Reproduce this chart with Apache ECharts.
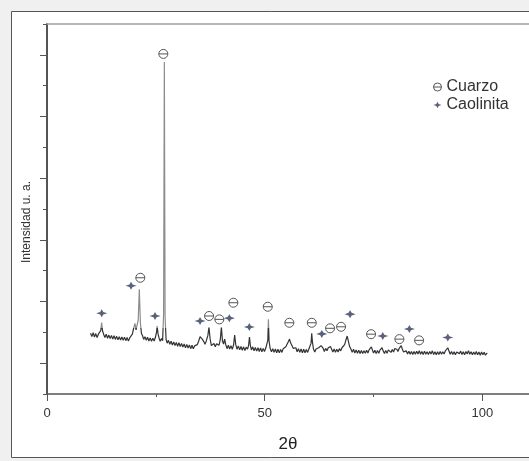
<!DOCTYPE html>
<html>
<head>
<meta charset="utf-8">
<script src="https://cdn.jsdelivr.net/npm/echarts@6/dist/echarts.min.js"></script>
<style>
html,body{margin:0;padding:0;background:#f0f0f0;}
#c{width:529px;height:461px;}
</style>
</head>
<body>
<div id="c"></div>
<script>
// XRD pattern: 2θ (degrees) and intensity (arbitrary units)
var twoTheta = [
10.0,10.3,10.6,10.9,11.2,11.5,11.8,12.1,12.35,12.55,
12.75,13.0,13.3,13.6,13.9,14.2,14.5,14.8,15.1,15.4,
15.7,16.0,16.3,16.6,16.9,17.2,17.5,17.8,18.1,18.4,
18.7,19.0,19.3,19.6,19.85,20.2,20.45,20.7,20.95,21.2,
21.45,21.7,21.95,22.2,22.5,22.8,23.1,23.4,23.7,24.0,
24.3,24.6,24.9,25.15,25.3,25.5,25.75,26.0,26.3,26.55,
26.78,26.95,27.12,27.35,27.6,27.9,28.2,28.5,28.8,29.1,
29.4,29.7,30.0,30.3,30.6,30.9,31.2,31.5,31.8,32.1,
32.4,32.7,33.0,33.3,33.6,33.9,34.2,34.5,34.85,35.15,
35.4,35.7,36.0,36.3,36.6,36.95,37.2,37.45,37.75,38.05,
38.35,38.65,38.95,39.2,39.5,39.8,40.05,40.3,40.55,40.8,
41.05,41.35,41.65,41.95,42.25,42.55,42.85,43.1,43.35,43.65,
43.95,44.25,44.55,44.85,45.15,45.45,45.75,46.05,46.3,46.5,
46.7,46.95,47.25,47.55,47.85,48.15,48.45,48.75,49.05,49.35,
49.65,49.95,50.25,50.55,50.72,50.85,51.0,51.25,51.55,51.85,
52.15,52.45,52.75,53.05,53.35,53.65,53.95,54.25,54.55,54.85,
55.15,55.45,55.7,55.95,56.25,56.55,56.85,57.15,57.45,57.75,
58.05,58.35,58.65,58.95,59.25,59.55,59.85,60.15,60.45,60.65,
60.8,60.95,61.2,61.5,61.8,62.1,62.4,62.7,62.95,63.15,
63.4,63.7,64.0,64.3,64.6,64.9,65.1,65.35,65.65,65.95,
66.25,66.55,66.85,67.15,67.45,67.75,68.05,68.35,68.65,68.95,
69.2,69.5,69.8,70.1,70.4,70.7,71.0,71.3,71.6,71.9,
72.2,72.5,72.8,73.1,73.4,73.7,74.0,74.3,74.5,74.75,
75.0,75.3,75.6,75.9,76.2,76.5,76.75,76.95,77.2,77.5,
77.8,78.1,78.4,78.7,79.0,79.3,79.6,79.85,80.1,80.35,
80.6,80.85,81.1,81.35,81.6,81.9,82.2,82.5,82.8,83.1,
83.4,83.7,84.0,84.3,84.6,84.9,85.2,85.5,85.8,86.1,
86.4,86.7,87.0,87.3,87.6,87.9,88.2,88.5,88.8,89.1,
89.4,89.7,90.0,90.3,90.6,90.9,91.2,91.5,91.8,92.05,
92.3,92.6,92.9,93.2,93.5,93.8,94.1,94.4,94.7,95.0,
95.3,95.6,95.9,96.2,96.5,96.8,97.1,97.4,97.7,98.0,
98.3,98.6,98.9,99.2,99.5,99.8,100.1,100.4,100.7,101.1];
var intensity = [
197,186,199,185,196,183,194,188,206,232,
205,194,183,194,181,191,180,190,178,189,
177,187,176,186,175,185,174,184,173,183,
172,182,184,194,210,229,208,204,240,340,
230,196,189,177,186,174,184,172,182,171,
181,172,184,200,220,195,181,171,180,173,
260,1077,250,177,165,174,161,171,159,169,
157,167,155,166,154,164,152,162,150,161,
149,159,147,158,147,156,150,160,172,186,
190,177,170,161,173,190,217,180,157,152,
164,153,163,166,158,176,217,172,162,178,
160,147,158,146,157,145,159,191,160,145,
156,143,154,142,153,141,152,145,158,185,
158,143,153,140,151,139,150,138,149,137,
148,138,149,150,175,242,172,148,137,147,
135,146,134,145,134,144,135,147,142,153,
158,170,178,166,157,148,145,150,137,147,
135,146,134,145,134,144,135,146,147,165,
197,170,146,136,146,140,150,148,157,159,
149,138,148,140,150,148,154,146,136,146,
135,145,136,147,140,150,150,160,175,188,
172,154,146,135,145,133,143,132,142,131,
141,131,140,132,142,133,144,146,153,142,
133,142,131,141,132,143,146,150,140,131,
141,132,143,144,135,144,136,147,153,145,
138,147,149,157,146,136,131,140,130,139,
129,138,128,138,129,139,130,140,129,138,
128,139,129,137,128,138,130,140,128,137,
127,137,128,138,129,137,130,140,144,150,
140,129,138,128,137,127,136,140,131,139,
128,137,127,138,130,140,129,137,127,136,
128,138,127,136,126,136,127,135,126,133];

// Phase identification markers
var quartzTheta = [26.72,21.43,37.22,39.58,42.80,50.70,55.66,60.81,65.01,67.54,74.43,80.93,85.46];
var quartzY     = [1103,377,253,242,296,283,231,231,213,218,194,178,174];
var kaolTheta   = [12.57,19.30,24.81,35.15,41.88,46.47,63.11,69.61,77.12,83.23,92.05];
var kaolY       = [262,351,253,237,246,217,195,259,188,211,183];

var xMajorTicks = [0,50,100];
var xMinorTicks = [25,75];
var yMajorTicks = [100,300,500,700,900,1100];
var seriesNames = ['Cuarzo','Caolinita'];

function zip(a,b){var r=[];for(var i=0;i<a.length;i++){r.push([a[i],b[i]]);}return r;}

var quartzPath = 'path://M-5,0 A5,5 0 1,1 5,0 A5,5 0 1,1 -5,0 Z M-5,0 L5,0';
var kaolPath = 'path://M0,-5 L1.7,-1.6 L6,0 L1.7,1.6 L0,5 L-1.7,1.6 L-6,0 L-1.7,-1.6 Z';
var FONT = '"Liberation Sans", Arial, sans-serif';
var XMAX = 110.7;

var chart = echarts.init(document.getElementById('c'), null, {renderer:'canvas'});
chart.setOption({
  animation:false,
  backgroundColor:'#f0f0f0',
  graphic:[{type:'rect', z:-10, silent:true, shape:{x:11.5,y:11.5,width:540,height:446}, style:{fill:'#ffffff', stroke:'#555555', lineWidth:1}}],
  grid:{left:47, top:24, right:0, bottom:67},
  legend:{
    orient:'vertical', left:433, top:79, itemWidth:8, itemHeight:9, itemGap:2, padding:0,
    textStyle:{fontSize:16, color:'#333', fontFamily:FONT},
    data:[
      {name:seriesNames[0], icon:quartzPath, itemStyle:{color:'rgba(0,0,0,0)', borderColor:'#555', borderWidth:1}},
      {name:seriesNames[1], icon:kaolPath, itemStyle:{color:'#2f3a5a', borderWidth:0}}
    ]
  },
  visualMap:{show:false, type:'piecewise', seriesIndex:0, dimension:1,
    pieces:[{min:0, max:215, color:'#333333'},{min:215, max:1300, color:'#8c8c8c'}]},
  xAxis:[{
    type:'value', min:0, max:XMAX, interval:50, position:'bottom',
    axisLine:{show:true, onZero:false, lineStyle:{color:'#555', width:1.5}},
    axisTick:{show:true, length:7, lineStyle:{color:'#555', width:1}, customValues:xMajorTicks},
    axisLabel:{color:'#333', fontSize:13, margin:13, fontFamily:FONT, customValues:xMajorTicks},
    splitLine:{show:false},
    name:'2θ', nameLocation:'middle', nameGap:42,
    nameTextStyle:{fontSize:17, color:'#222', fontFamily:FONT}
  },{
    type:'value', min:0, max:XMAX, position:'bottom',
    axisLine:{show:false, onZero:false},
    axisTick:{show:true, length:3, lineStyle:{color:'#555', width:1}, customValues:xMinorTicks},
    axisLabel:{show:false}, splitLine:{show:false}
  },{
    type:'value', min:0, max:XMAX, position:'top',
    axisLine:{show:true, onZero:false, lineStyle:{color:'#a0a0a0', width:1.5}},
    axisTick:{show:false}, axisLabel:{show:false}, splitLine:{show:false}
  }],
  yAxis:[{
    type:'value', min:0, max:1200, interval:100,
    axisLine:{show:true, lineStyle:{color:'#555', width:2}},
    axisTick:{show:true, length:4, lineStyle:{color:'#555', width:1}},
    axisLabel:{show:false}, splitLine:{show:false},
    name:'Intensidad u. a.', nameLocation:'middle', nameGap:14, nameRotate:90,
    nameTextStyle:{fontSize:12, color:'#333', fontFamily:FONT, padding:[0,26,0,0]}
  },{
    type:'value', min:0, max:1200, interval:100, position:'left',
    axisLine:{show:false},
    axisTick:{show:true, length:7, lineStyle:{color:'#555', width:1}, customValues:yMajorTicks},
    axisLabel:{show:false}, splitLine:{show:false}
  }],
  series:[{
    type:'line', data:zip(twoTheta,intensity), showSymbol:false, symbol:'none',
    lineStyle:{width:1.2}, z:3, silent:true
  },{
    name:seriesNames[0], type:'scatter', data:zip(quartzTheta,quartzY), symbol:quartzPath, symbolSize:9,
    itemStyle:{color:'rgba(0,0,0,0)', borderColor:'#555', borderWidth:1, opacity:1}, z:4
  },{
    name:seriesNames[1], type:'scatter', data:zip(kaolTheta,kaolY), symbol:kaolPath, symbolSize:[11,8],
    itemStyle:{color:'#2f3a5a'}, z:4
  }]
});
</script>
</body>
</html>
